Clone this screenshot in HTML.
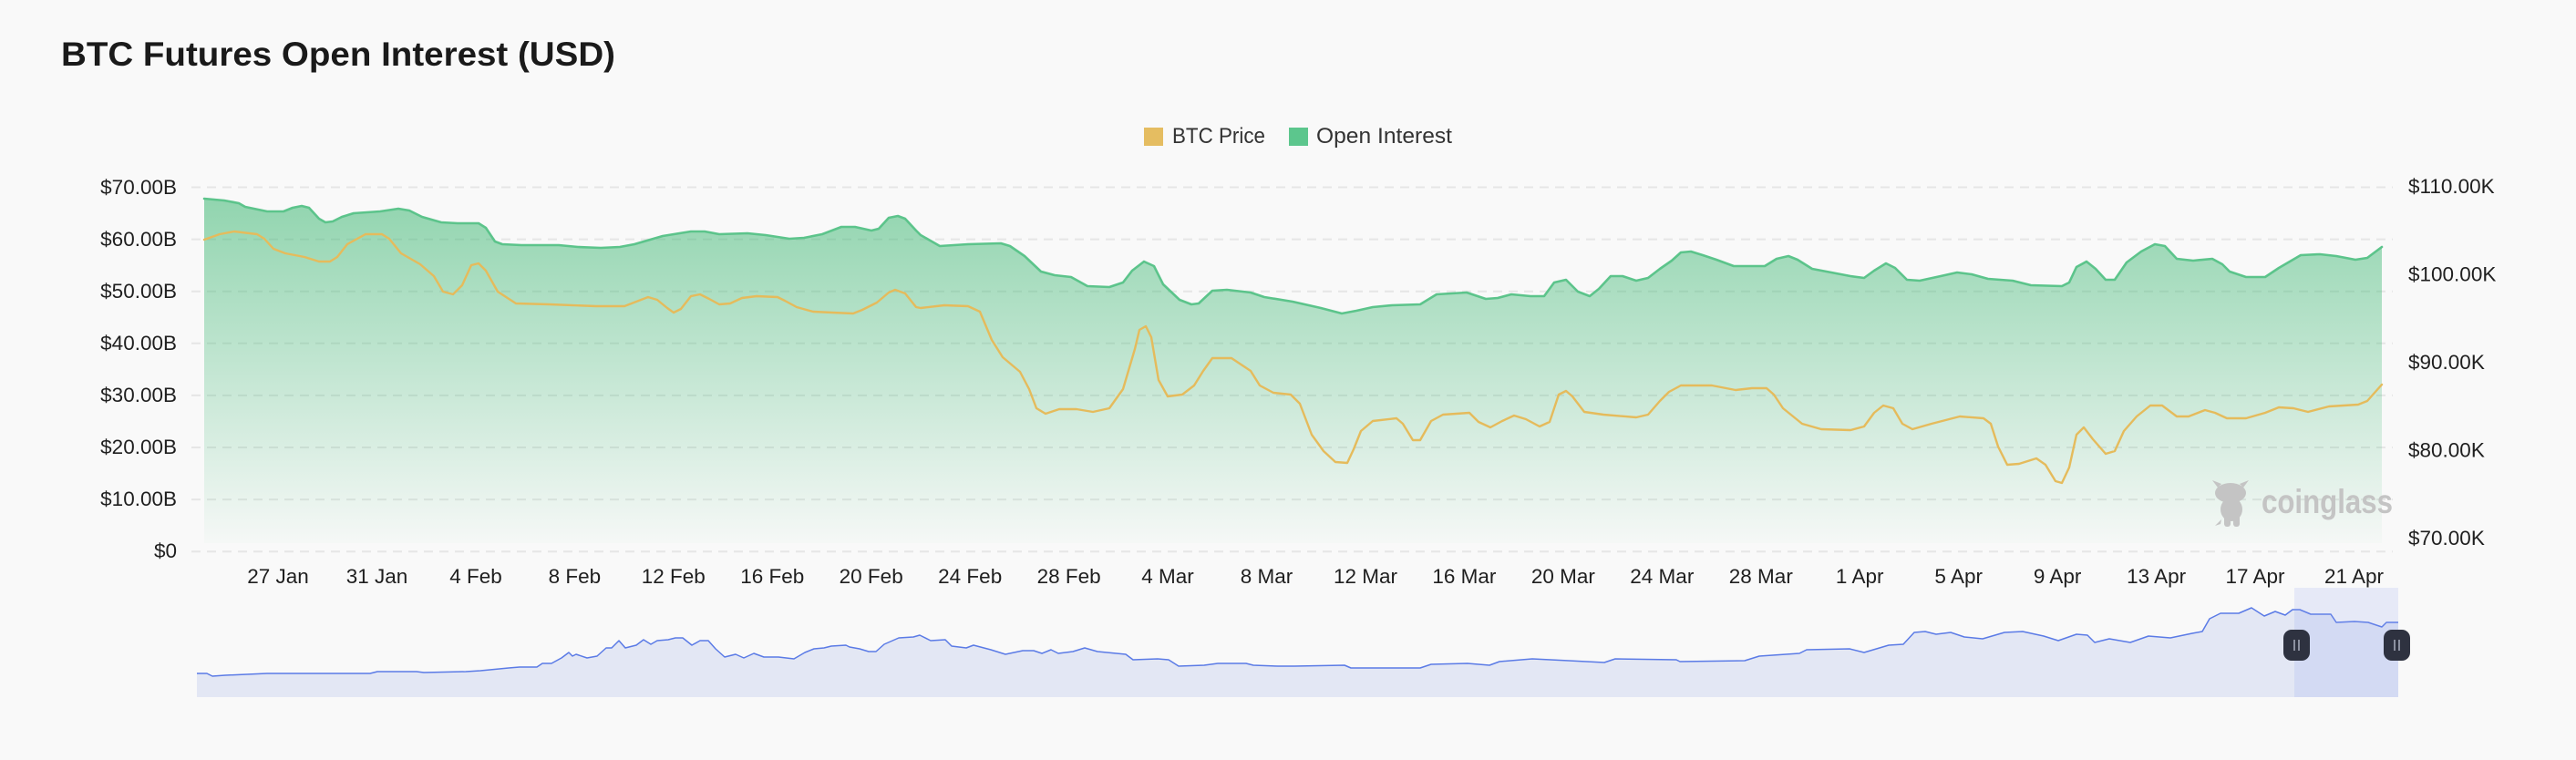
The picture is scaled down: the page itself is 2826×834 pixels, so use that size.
<!DOCTYPE html>
<html>
<head>
<meta charset="utf-8">
<style>
  html,body{margin:0;padding:0;background:#f9f9f9;}
  svg{display:block;}
  text{font-family:"Liberation Sans",Arial,sans-serif;}
</style>
</head>
<body>
<svg width="2826" height="834" viewBox="0 0 2826 834" xmlns="http://www.w3.org/2000/svg">
  <defs>
    <linearGradient id="oiFill" x1="0" y1="217" x2="0" y2="596" gradientUnits="userSpaceOnUse">
      <stop offset="0" stop-color="#3fb874" stop-opacity="0.56"/>
      <stop offset="1" stop-color="#3fb874" stop-opacity="0.02"/>
    </linearGradient>
  </defs>
  <rect x="0" y="0" width="2826" height="834" fill="#f9f9f9"/>

  <!-- Title -->
  <text x="67" y="72" font-size="37" font-weight="bold" fill="#1a1a1a" textLength="608" lengthAdjust="spacingAndGlyphs">BTC Futures Open Interest (USD)</text>

  <!-- Legend -->
  <rect x="1255" y="140" width="21" height="20" fill="#e5bd61"/>
  <text x="1286" y="157" font-size="24" fill="#333" textLength="102" lengthAdjust="spacingAndGlyphs">BTC Price</text>
  <rect x="1414" y="140" width="21" height="20" fill="#5cc68d"/>
  <text x="1444" y="157" font-size="24" fill="#333" textLength="149" lengthAdjust="spacingAndGlyphs">Open Interest</text>

  <!-- Grid lines -->
  <g stroke="#e6e6e6" stroke-width="2" stroke-dasharray="10 7">
    <line x1="210" y1="205.5" x2="2625" y2="205.5"/>
    <line x1="210" y1="262.6" x2="2625" y2="262.6"/>
    <line x1="210" y1="319.7" x2="2625" y2="319.7"/>
    <line x1="210" y1="376.8" x2="2625" y2="376.8"/>
    <line x1="210" y1="433.9" x2="2625" y2="433.9"/>
    <line x1="210" y1="491" x2="2625" y2="491"/>
    <line x1="210" y1="548.1" x2="2625" y2="548.1"/>
    <line x1="210" y1="605.2" x2="2625" y2="605.2"/>
  </g>

  <!-- Left axis labels -->
  <g font-size="22.5" fill="#1f1f1f" text-anchor="end">
    <text x="194" y="213">$70.00B</text>
    <text x="194" y="270">$60.00B</text>
    <text x="194" y="327">$50.00B</text>
    <text x="194" y="384">$40.00B</text>
    <text x="194" y="441">$30.00B</text>
    <text x="194" y="498">$20.00B</text>
    <text x="194" y="555">$10.00B</text>
    <text x="194" y="612">$0</text>
  </g>

  <!-- Right axis labels -->
  <g font-size="22.5" fill="#1f1f1f">
    <text x="2642" y="212">$110.00K</text>
    <text x="2642" y="308.5">$100.00K</text>
    <text x="2642" y="405">$90.00K</text>
    <text x="2642" y="501.5">$80.00K</text>
    <text x="2642" y="598">$70.00K</text>
  </g>

  <!-- OI area -->
  <polygon fill="url(#oiFill)" points="224,596 224,218 246,220 262,223 269,227 293,232 311,232 321,228 331,226 339,228 350,240 357,244 365,243 375,238 388,234 417,232 437,229 449,231 463,238 484,244 502,245 525,245 533,250 543,265 551,268 572,269 613,269 634,271 659,272 680,271 696,268 727,259 758,254 773,254 789,257 820,256 840,258 866,262 882,261 902,257 923,249 938,249 956,253 964,251 975,239 985,237 993,240 1005,253 1010,258 1031,270 1062,268 1098,267 1108,270 1124,281 1142,298 1157,302 1175,304 1193,314 1217,315 1232,310 1242,297 1255,287 1266,292 1276,312 1294,329 1307,334 1315,333 1330,319 1346,318 1372,321 1387,326 1418,331 1449,338 1472,344 1488,341 1506,337 1527,335 1558,334 1576,323 1609,321 1630,328 1643,327 1658,323 1679,325 1694,325 1705,310 1718,307 1731,320 1744,325 1754,317 1767,303 1780,303 1795,308 1808,305 1821,295 1834,286 1844,277 1855,276 1868,280 1883,285 1902,292 1936,292 1949,284 1962,281 1972,285 1988,295 2009,299 2030,303 2045,305 2056,297 2069,289 2079,294 2092,307 2106,308 2129,303 2147,299 2163,301 2181,306 2208,308 2228,313 2262,314 2270,310 2278,293 2289,287 2299,295 2310,307 2320,307 2333,288 2349,276 2364,268 2375,270 2388,284 2406,286 2427,284 2438,290 2446,298 2464,304 2485,304 2500,294 2524,280 2545,279 2563,281 2584,285 2597,283 2613,271 2613,596"/>

  <!-- Watermark -->
  <g fill="#c4c4c4">
    <ellipse cx="2447" cy="541" rx="17" ry="11"/>
    <path d="M2433,535 L2427,527 L2437,531 Z"/>
    <path d="M2461,535 L2467,527 L2457,531 Z"/>
    <ellipse cx="2448" cy="559" rx="12" ry="13"/>
    <rect x="2440" y="564" width="7" height="14" rx="3"/>
    <rect x="2450" y="564" width="7" height="14" rx="3"/>
    <path d="M2437,570 L2430,577 L2436,575 Z"/>
  </g>
  <text x="2481" y="563" font-size="37" font-weight="bold" fill="#c4c4c4" textLength="144" lengthAdjust="spacingAndGlyphs">coinglass</text>

  <!-- OI line -->
  <polyline fill="none" stroke="#5cc48b" stroke-width="2.6" stroke-linejoin="round" stroke-linecap="round" points="224,218 246,220 262,223 269,227 293,232 311,232 321,228 331,226 339,228 350,240 357,244 365,243 375,238 388,234 417,232 437,229 449,231 463,238 484,244 502,245 525,245 533,250 543,265 551,268 572,269 613,269 634,271 659,272 680,271 696,268 727,259 758,254 773,254 789,257 820,256 840,258 866,262 882,261 902,257 923,249 938,249 956,253 964,251 975,239 985,237 993,240 1005,253 1010,258 1031,270 1062,268 1098,267 1108,270 1124,281 1142,298 1157,302 1175,304 1193,314 1217,315 1232,310 1242,297 1255,287 1266,292 1276,312 1294,329 1307,334 1315,333 1330,319 1346,318 1372,321 1387,326 1418,331 1449,338 1472,344 1488,341 1506,337 1527,335 1558,334 1576,323 1609,321 1630,328 1643,327 1658,323 1679,325 1694,325 1705,310 1718,307 1731,320 1744,325 1754,317 1767,303 1780,303 1795,308 1808,305 1821,295 1834,286 1844,277 1855,276 1868,280 1883,285 1902,292 1936,292 1949,284 1962,281 1972,285 1988,295 2009,299 2030,303 2045,305 2056,297 2069,289 2079,294 2092,307 2106,308 2129,303 2147,299 2163,301 2181,306 2208,308 2228,313 2262,314 2270,310 2278,293 2289,287 2299,295 2310,307 2320,307 2333,288 2349,276 2364,268 2375,270 2388,284 2406,286 2427,284 2438,290 2446,298 2464,304 2485,304 2500,294 2524,280 2545,279 2563,281 2584,285 2597,283 2613,271"/>

  <!-- BTC price line -->
  <polyline fill="none" stroke="#e5bb5c" stroke-width="2.4" stroke-linejoin="round" stroke-linecap="round" points="224,263 241,257 257,254 282,257 290,262 300,273 313,278 334,282 350,287 362,287 370,282 381,268 401,257 419,257 427,262 440,278 461,290 476,303 486,320 497,323 507,313 517,291 525,289 533,297 546,320 566,333 603,334 654,336 685,336 698,331 711,326 721,329 732,338 739,343 747,339 758,325 768,323 778,328 789,334 801,333 814,327 830,325 853,326 861,330 874,337 892,342 913,343 936,344 946,340 962,332 975,321 982,318 993,322 1005,337 1010,338 1036,335 1062,336 1075,342 1088,373 1100,392 1119,408 1129,427 1137,448 1147,454 1162,449 1181,449 1199,452 1217,448 1232,427 1245,383 1250,362 1257,358 1263,370 1271,417 1281,435 1297,433 1310,423 1320,407 1330,393 1351,393 1372,407 1382,423 1397,431 1416,433 1426,443 1439,477 1452,495 1465,507 1478,508 1485,493 1493,473 1506,462 1532,459 1539,465 1550,483 1558,483 1570,462 1583,455 1612,453 1622,463 1635,469 1648,462 1661,456 1674,460 1689,468 1700,463 1710,433 1718,429 1725,435 1738,452 1759,455 1795,458 1808,455 1821,440 1831,430 1844,423 1878,423 1904,428 1922,426 1938,426 1946,433 1956,448 1977,465 1998,471 2030,472 2045,468 2056,453 2066,445 2077,448 2087,465 2098,471 2119,465 2150,457 2176,459 2184,465 2192,490 2202,510 2215,509 2234,503 2244,510 2255,528 2262,530 2270,513 2278,477 2286,469 2296,482 2310,498 2320,495 2330,473 2344,457 2359,445 2372,445 2388,457 2401,457 2419,450 2430,453 2443,459 2464,459 2485,453 2500,447 2516,448 2532,452 2555,446 2587,444 2597,440 2613,422"/>

  <!-- X axis labels -->
  <g font-size="22.5" fill="#1f1f1f" text-anchor="middle">
    <text x="305" y="640">27 Jan</text>
    <text x="413.5" y="640">31 Jan</text>
    <text x="522" y="640">4 Feb</text>
    <text x="630.4" y="640">8 Feb</text>
    <text x="738.8" y="640">12 Feb</text>
    <text x="847.3" y="640">16 Feb</text>
    <text x="955.7" y="640">20 Feb</text>
    <text x="1064.2" y="640">24 Feb</text>
    <text x="1172.6" y="640">28 Feb</text>
    <text x="1281" y="640">4 Mar</text>
    <text x="1389.5" y="640">8 Mar</text>
    <text x="1498" y="640">12 Mar</text>
    <text x="1606.4" y="640">16 Mar</text>
    <text x="1714.9" y="640">20 Mar</text>
    <text x="1823.3" y="640">24 Mar</text>
    <text x="1931.8" y="640">28 Mar</text>
    <text x="2040.2" y="640">1 Apr</text>
    <text x="2148.7" y="640">5 Apr</text>
    <text x="2257.1" y="640">9 Apr</text>
    <text x="2365.6" y="640">13 Apr</text>
    <text x="2474" y="640">17 Apr</text>
    <text x="2582.5" y="640">21 Apr</text>
  </g>

  <!-- Navigator -->
  <polygon fill="#e3e7f4" points="216,765 216,739 227,739 233,742 247,741 293,739 309,739 406,739 414,737 457,737 465,738 511,737 527,736 558,733 570,732 589,732 595,728 605,728 616,722 624,716 628,720 632,718 644,722 655,720 665,711 671,711 679,703 686,711 698,708 706,702 714,707 721,703 733,702 741,700 749,700 759,708 768,703 777,703 785,712 795,721 807,718 816,722 827,717 838,721 854,721 871,723 883,716 893,712 904,711 912,709 928,708 932,710 943,712 953,715 961,715 970,707 986,700 1002,699 1009,697 1021,703 1037,702 1044,709 1060,711 1068,708 1087,713 1103,718 1122,714 1134,714 1143,717 1153,713 1161,717 1177,715 1190,711 1204,715 1235,718 1243,724 1270,723 1282,724 1293,731 1321,730 1336,728 1367,728 1375,730 1402,731 1420,731 1475,730 1482,733 1558,733 1570,729 1610,728 1634,730 1645,726 1681,723 1721,725 1760,727 1772,723 1839,724 1843,726 1914,725 1930,720 1974,717 1982,713 2029,712 2045,716 2072,708 2088,707 2100,694 2112,693 2124,696 2140,694 2155,699 2175,701 2199,694 2219,693 2242,698 2258,703 2278,696 2290,697 2298,705 2314,701 2337,705 2357,698 2381,700 2405,695 2416,693 2424,679 2436,673 2456,673 2470,667 2484,676 2496,671 2507,675 2515,669 2523,669 2535,674 2557,674 2563,683 2583,682 2598,683 2613,688 2618,683 2631,683 2631,765"/>
  <polyline fill="none" stroke="#5b7be6" stroke-width="1.5" stroke-linejoin="round" points="216,739 227,739 233,742 247,741 293,739 309,739 406,739 414,737 457,737 465,738 511,737 527,736 558,733 570,732 589,732 595,728 605,728 616,722 624,716 628,720 632,718 644,722 655,720 665,711 671,711 679,703 686,711 698,708 706,702 714,707 721,703 733,702 741,700 749,700 759,708 768,703 777,703 785,712 795,721 807,718 816,722 827,717 838,721 854,721 871,723 883,716 893,712 904,711 912,709 928,708 932,710 943,712 953,715 961,715 970,707 986,700 1002,699 1009,697 1021,703 1037,702 1044,709 1060,711 1068,708 1087,713 1103,718 1122,714 1134,714 1143,717 1153,713 1161,717 1177,715 1190,711 1204,715 1235,718 1243,724 1270,723 1282,724 1293,731 1321,730 1336,728 1367,728 1375,730 1402,731 1420,731 1475,730 1482,733 1558,733 1570,729 1610,728 1634,730 1645,726 1681,723 1721,725 1760,727 1772,723 1839,724 1843,726 1914,725 1930,720 1974,717 1982,713 2029,712 2045,716 2072,708 2088,707 2100,694 2112,693 2124,696 2140,694 2155,699 2175,701 2199,694 2219,693 2242,698 2258,703 2278,696 2290,697 2298,705 2314,701 2337,705 2357,698 2381,700 2405,695 2416,693 2424,679 2436,673 2456,673 2470,667 2484,676 2496,671 2507,675 2515,669 2523,669 2535,674 2557,674 2563,683 2583,682 2598,683 2613,688 2618,683 2631,683"/>
  <!-- selection window -->
  <rect x="2517" y="645" width="114" height="120" fill="#8a9cf0" fill-opacity="0.17"/>
  <!-- handles -->
  <rect x="2505" y="691" width="29" height="34" rx="9" fill="#2e3240"/>
  <line x1="2517" y1="702" x2="2517" y2="714" stroke="#a4a9b8" stroke-width="1.6"/>
  <line x1="2522" y1="702" x2="2522" y2="714" stroke="#a4a9b8" stroke-width="1.6"/>
  <rect x="2615" y="691" width="29" height="34" rx="9" fill="#2e3240"/>
  <line x1="2627" y1="702" x2="2627" y2="714" stroke="#a4a9b8" stroke-width="1.6"/>
  <line x1="2632" y1="702" x2="2632" y2="714" stroke="#a4a9b8" stroke-width="1.6"/>
</svg>
</body>
</html>
